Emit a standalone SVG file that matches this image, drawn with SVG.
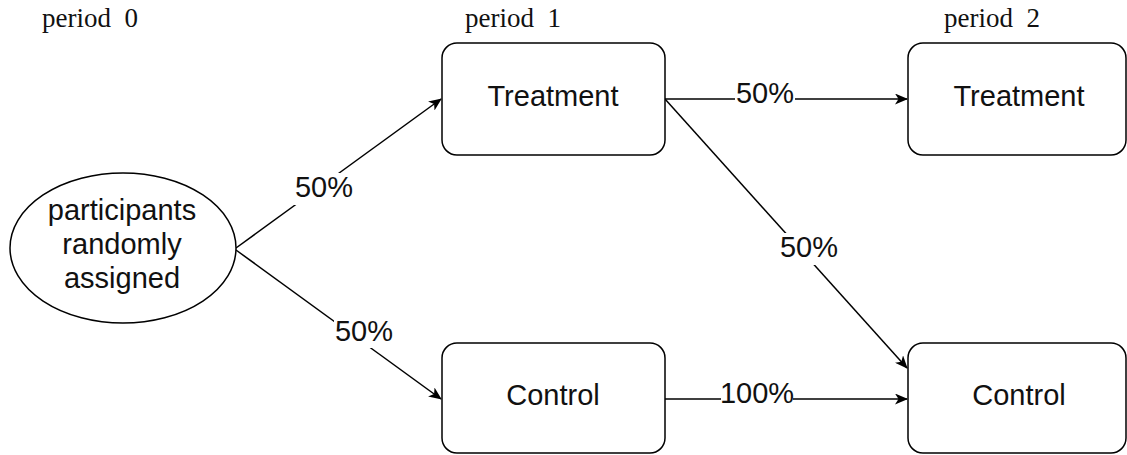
<svg xmlns="http://www.w3.org/2000/svg" width="1127" height="455" viewBox="0 0 1127 455">
<style>
.box{fill:#fff;stroke:#000;stroke-width:1.5}
.lbl{font-family:"Liberation Sans",Arial,sans-serif;font-size:29px;fill:#111;text-anchor:middle}
.per{font-family:"Liberation Serif","Times New Roman",serif;font-size:27px;fill:#111}
.edge{fill:none;stroke:#000;stroke-width:1.5}
.bg{fill:#fff}
</style>
<defs>
<marker id="arr" viewBox="0 0 13 11" refX="12" refY="5.5" markerWidth="13" markerHeight="11" markerUnits="userSpaceOnUse" orient="auto">
<path d="M0,0 L13,5.5 L0,11 L3.5,5.5 Z" fill="#000"/>
</marker>
</defs>
<rect width="1127" height="455" fill="#fff"/>
<g id="period-labels">
<text class="per" x="42" y="27" xml:space="preserve">period  0</text>
<text class="per" x="465" y="27" xml:space="preserve">period  1</text>
<text class="per" x="944" y="27" xml:space="preserve">period  2</text>
</g>
<g id="connectors">
<path class="edge" d="M236,248 L441,99" marker-end="url(#arr)"/>
<path class="edge" d="M236,250 L441,399" marker-end="url(#arr)"/>
<path class="edge" d="M665,99 L907,99" marker-end="url(#arr)"/>
<path class="edge" d="M665,99 L907,368" marker-end="url(#arr)"/>
<path class="edge" d="M665,399 L907,399" marker-end="url(#arr)"/>
<rect class="bg" x="294" y="173" width="61" height="32"/>
<text class="lbl" x="324" y="197">50%</text>
<rect class="bg" x="334" y="316" width="60" height="32"/>
<text class="lbl" x="364" y="341">50%</text>
<rect class="bg" x="735" y="82" width="60" height="28"/>
<text class="lbl" x="765" y="103">50%</text>
<rect class="bg" x="779" y="233" width="60" height="32"/>
<text class="lbl" x="809" y="257">50%</text>
<rect class="bg" x="721" y="382" width="72" height="28"/>
<text class="lbl" x="757" y="403">100%</text>
</g>
<g id="participants">
<ellipse class="box" cx="123" cy="248" rx="113" ry="75"/>
<text class="lbl" x="122" y="220">participants</text>
<text class="lbl" x="122" y="254">randomly</text>
<text class="lbl" x="122" y="288">assigned</text>
</g>
<g id="treatment1">
<rect class="box" x="442" y="43" width="223" height="112" rx="15"/>
<text class="lbl" x="553" y="106">Treatment</text>
</g>
<g id="control1">
<rect class="box" x="442" y="343" width="223" height="110" rx="15"/>
<text class="lbl" x="553" y="405">Control</text>
</g>
<g id="treatment2">
<rect class="box" x="908" y="43" width="218" height="112" rx="15"/>
<text class="lbl" x="1019" y="106">Treatment</text>
</g>
<g id="control2">
<rect class="box" x="908" y="343" width="218" height="110" rx="15"/>
<text class="lbl" x="1019" y="405">Control</text>
</g>
</svg>
